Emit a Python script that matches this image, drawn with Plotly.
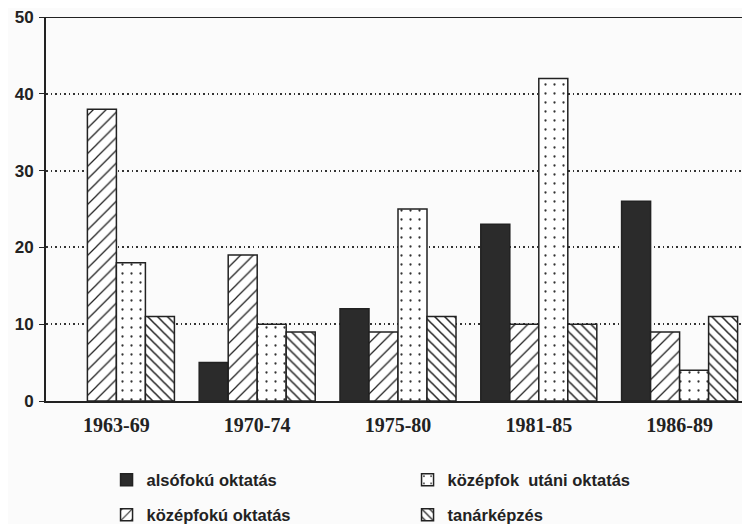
import plotly.graph_objects as go

periods = ["1963-69", "1970-74", "1975-80", "1981-85", "1986-89"]
also_fok = [None, 5, 12, 23, 26]
kozep_fok = [38, 19, 9, 10, 9]
kozep_utani = [18, 10, 25, 42, 4]
tanarkepzes = [11, 9, 11, 10, 11]

names = ["alsófokú oktatás", "középfokú oktatás", "középfok  utáni oktatás", "tanárképzés"]
series = [also_fok, kozep_fok, kozep_utani, tanarkepzes]
patterns = [
    dict(shape="", fillmode="replace"),
    dict(shape="/", fgcolor="#222", bgcolor="white", size=9, solidity=0.14, fillmode="replace"),
    dict(shape=".", fgcolor="#333", bgcolor="white", size=9, solidity=0.05, fillmode="replace"),
    dict(shape="\\", fgcolor="#222", bgcolor="white", size=7, solidity=0.22, fillmode="replace"),
]
colors = ["#2b2b2b", "white", "white", "white"]
legends = ["legend", "legend2", "legend", "legend2"]

fig = go.Figure()
for nm, vals, pat, col, lg in zip(names, series, patterns, colors, legends):
    fig.add_trace(go.Bar(
        x=periods, y=vals, name="<b>%s</b>" % nm,
        marker=dict(color=col, pattern=pat, line=dict(color="#222", width=1.5)),
        legend=lg,
    ))

legfont = dict(family="Liberation Sans, Arial, sans-serif", size=16.5, color="#222")
legcommon = dict(orientation="h", x=0.086, xanchor="left", yanchor="middle",
                 entrywidth=256, entrywidthmode="pixels", font=legfont,
                 bgcolor="rgba(0,0,0,0)", itemwidth=30)
fig.update_layout(
    width=742, height=516,
    margin=dict(l=38, r=0, t=9, b=123, autoexpand=False),
    paper_bgcolor="#fbfbfb", plot_bgcolor="#fbfbfb",
    barmode="group", bargap=0.176, bargroupgap=0,
    showlegend=True,
    legend=dict(y=-0.206, **legcommon),
    legend2=dict(y=-0.297, **legcommon),
    xaxis=dict(
        showline=True, linecolor="#222", linewidth=2, automargin=False,
        tickvals=periods, ticktext=["<b>%s</b>" % p for p in periods],
        tickfont=dict(family="Liberation Serif, Times New Roman, serif", size=20, color="#222"),
        ticks="", showgrid=False, ticklabelstandoff=5,
    ),
    yaxis=dict(
        range=[0, 50], automargin=False,
        tickvals=[0, 10, 20, 30, 40, 50],
        ticktext=["<b>0</b>", "<b>10</b>", "<b>20</b>", "<b>30</b>", "<b>40</b>", "<b>50</b>"],
        showline=True, linecolor="#222", linewidth=2,
        showgrid=True, gridcolor="#333", griddash="1.5px,3px", gridwidth=1.5,
        zeroline=False, ticks="outside", ticklen=5, tickcolor="#222",
        ticklabelstandoff=2, ticklabeloverflow="allow",
        tickfont=dict(family="Liberation Sans, Arial, sans-serif", size=17, color="#222"),
    ),
    shapes=[dict(type="line", xref="paper", x0=0, x1=1, yref="y", y0=50, y1=50,
                 line=dict(color="#222", width=2))],
)
fig.write_html("out.html")
